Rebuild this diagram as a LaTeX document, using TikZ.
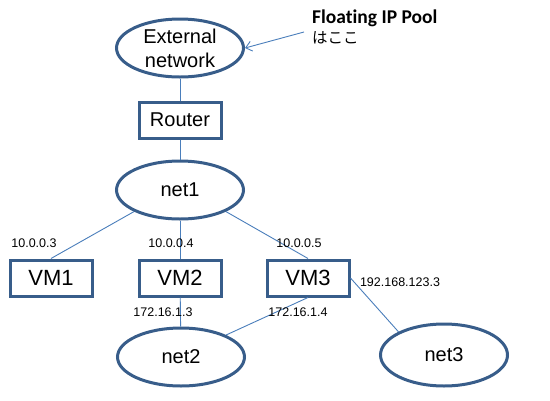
\documentclass[tikz,border=0pt]{standalone}
\usepackage{fontspec}
\setmainfont{Liberation Sans}
\newfontfamily\calibfont[Ligatures=NoCommon]{Carlito}
\newfontfamily\jpfont{Noto Sans CJK JP}
\usetikzlibrary{arrows.meta, shapes.geometric}
\definecolor{boxblue}{HTML}{385D8A}
\definecolor{lineblue}{HTML}{4A7EBB}

\begin{document}
\begin{tikzpicture}[x=1pt, y=-1pt, >={Straight Barb[length=6pt, width=10pt]},
  net/.style={ellipse, draw=boxblue, line width=3pt, minimum width=127pt, minimum height=58pt, inner sep=0pt, font=\fontsize{20}{24}\selectfont, align=center},
  hostbox/.style={rectangle, draw=boxblue, line width=3pt, minimum width=82pt, minimum height=36pt, inner sep=0pt},
  link/.style={draw=lineblue, line width=0.9pt},
  addr/.style={font=\fontsize{12.5}{13}\selectfont, inner sep=0pt}]
  \useasboundingbox (0,0) rectangle (550,400);
  % networks and router
  \node[net] (ext) at (180,48) {External\\network};
  \node[hostbox, font=\fontsize{20}{24}\selectfont] (router) at (180,120) {Router};
  \node[net] (net1) at (180,190) {net1};
  \node[net] (net2) at (181,357) {net2};
  \node[net, minimum height=62pt] (net3) at (444,355) {net3};
  % vms
  \node[hostbox, font=\fontsize{22}{24}\selectfont] (vm1) at (51,278) {VM1};
  \node[hostbox, font=\fontsize{22}{24}\selectfont] (vm2) at (180,278) {VM2};
  \node[hostbox, font=\fontsize{22}{24}\selectfont] (vm3) at (308,278) {VM3};
  % links
  \draw[link] (ext) -- (router);
  \draw[link] (router) -- (net1);
  \draw[link] (net1.south west) -- (vm1.north);
  \draw[link] (net1) -- (vm2);
  \draw[link] (net1.south east) -- (vm3.north);
  \draw[link] (vm2) -- (net2);
  \draw[link] (vm3.south) -- (net2.26);
  \draw[link] (vm3.east) -- (net3.153);
  % addresses
  \node[addr] (a1) at (34,243) {10.0.0.3};
  \node[addr] (a2) at (171,243) {10.0.0.4};
  \node[addr] (a3) at (299,243) {10.0.0.5};
  \node[addr] (a4) at (163,312) {172.16.1.3};
  \node[addr] (a5) at (298,312) {172.16.1.4};
  \node[addr] (a6) at (400,282) {192.168.123.3};
  % floating ip note
  \node[anchor=west, inner sep=0pt, font=\calibfont\bfseries\fontsize{19.5}{20}\selectfont] (fip) at (312,18) {Floating IP Pool};
  \node[anchor=west, inner sep=0pt, font=\jpfont\fontsize{15.5}{16}\selectfont] (koko) at (312,38) {はここ};
  \coordinate (fipend) at (304,32);
  \draw[link, ->] (fipend) -- (ext.east);
\end{tikzpicture}
\end{document}
